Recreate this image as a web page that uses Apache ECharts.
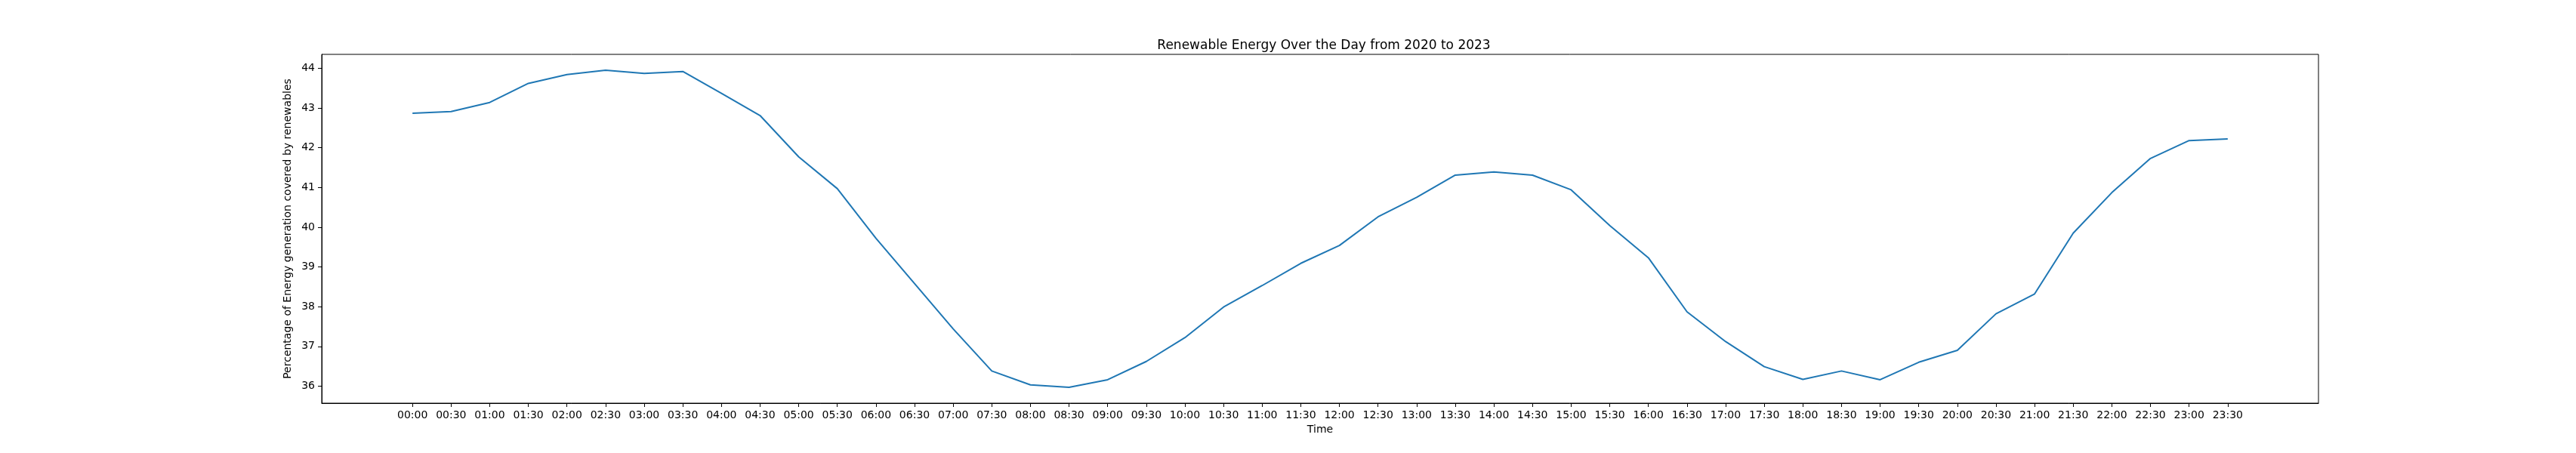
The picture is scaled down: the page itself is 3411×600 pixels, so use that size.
<!DOCTYPE html>
<html>
<head>
<meta charset="utf-8">
<title>Renewable Energy Over the Day</title>
<script src="https://cdn.jsdelivr.net/npm/echarts@6/dist/echarts.min.js"></script>
<style>
  html, body { margin: 0; padding: 0; background: #fff; }
  #chart { width: 3411px; height: 600px; }
</style>
</head>
<body>
<div id="chart"></div>
<script>
// time slots (x tick labels)
var timeLabels = [
    '00:00', '00:30', '01:00', '01:30', '02:00', '02:30', '03:00', '03:30',
    '04:00', '04:30', '05:00', '05:30', '06:00', '06:30', '07:00', '07:30',
    '08:00', '08:30', '09:00', '09:30', '10:00', '10:30', '11:00', '11:30',
    '12:00', '12:30', '13:00', '13:30', '14:00', '14:30', '15:00', '15:30',
    '16:00', '16:30', '17:00', '17:30', '18:00', '18:30', '19:00', '19:30',
    '20:00', '20:30', '21:00', '21:30', '22:00', '22:30', '23:00', '23:30'
];

// percentage of generation covered by renewables
var renewableShare = [
    42.87, 42.91, 43.14, 43.62, 43.84, 43.95, 43.87, 43.92,
    43.37, 42.81, 41.77, 40.97, 39.72, 38.58, 37.44, 36.38,
    36.03, 35.97, 36.16, 36.62, 37.22, 37.99, 38.53, 39.09,
    39.54, 40.26, 40.75, 41.31, 41.39, 41.31, 40.94, 40.04,
    39.23, 37.87, 37.12, 36.49, 36.17, 36.38, 36.16, 36.60,
    36.90, 37.82, 38.32, 39.85, 40.87, 41.73, 42.18, 42.22
];

var yTicks = [36, 37, 38, 39, 40, 41, 42, 43, 44];

var font = 'DejaVu Sans';

var xTicks = timeLabels.map(function (t, i) { return i; });
var points = renewableShare.map(function (v, i) { return [i, v]; });

var chart = echarts.init(document.getElementById('chart'), null, { renderer: 'canvas' });

var option = {
    animation: false,
    backgroundColor: '#ffffff',
    title: {
        text: 'Renewable Energy Over the Day from 2020 to 2023',
        left: 1748,
        top: 47,
        textAlign: 'center',
        textStyle: { fontFamily: font, fontSize: 17, fontWeight: 'normal', color: '#000' }
    },
    grid: {
        left: 426,
        right: 341,
        top: 72,
        bottom: 66,
        show: true,
        borderColor: '#000',
        borderWidth: 1,
        containLabel: false
    },
    xAxis: {
        type: 'value',
        min: -2.35,
        max: 49.35,
        name: 'Time',
        nameLocation: 'middle',
        nameGap: 27,
        nameTextStyle: { fontFamily: font, fontSize: 14, color: '#000' },
        axisLine: { show: true, onZero: false, lineStyle: { color: '#000', width: 1 } },
        axisTick: { show: true, length: 5, customValues: xTicks, lineStyle: { color: '#000' } },
        axisLabel: {
            customValues: xTicks,
            margin: 9,
            fontFamily: font,
            fontSize: 14,
            color: '#000',
            formatter: function (v) { return timeLabels[Math.round(v)]; }
        },
        splitLine: { show: false }
    },
    yAxis: {
        type: 'value',
        min: 35.57,
        max: 44.35,
        name: 'Percentage of Energy generation covered by renewables',
        nameLocation: 'middle',
        nameGap: 34,
        nameTextStyle: { fontFamily: font, fontSize: 14, color: '#000' },
        axisLine: { show: true, onZero: false, lineStyle: { color: '#000', width: 1 } },
        axisTick: { show: true, length: 5, customValues: yTicks, lineStyle: { color: '#000' } },
        axisLabel: {
            customValues: yTicks,
            margin: 9,
            fontFamily: font,
            fontSize: 14,
            color: '#000'
        },
        splitLine: { show: false }
    },
    series: [
        {
            type: 'line',
            data: points,
            showSymbol: false,
            symbol: 'none',
            lineStyle: { color: '#1f77b4', width: 2 },
            itemStyle: { color: '#1f77b4' }
        }
    ]
};

chart.setOption(option);
</script>
</body>
</html>
